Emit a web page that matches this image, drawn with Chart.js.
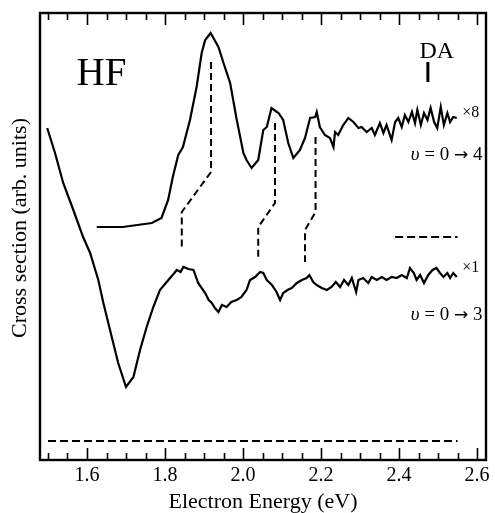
<!DOCTYPE html>
<html>
<head>
<meta charset="utf-8">
<script src="https://cdn.jsdelivr.net/npm/chart.js@4/dist/chart.umd.min.js"></script>
<style>
html, body { margin: 0; padding: 0; background: #fff; }
</style>
</head>
<body>
<canvas id="chart" width="495" height="513"></canvas>
<script>
// v = 0 -> 4 channel (scaled x8)
const upperEnergy = [1.625, 1.692, 1.766, 1.791, 1.808, 1.820, 1.834, 1.846, 1.864, 1.881, 1.894, 1.903, 1.917,
  1.937, 1.950, 1.967, 1.984, 2.001, 2.009, 2.022, 2.039, 2.052, 2.061, 2.073, 2.091, 2.103, 2.116, 2.129,
  2.146, 2.159, 2.172, 2.185, 2.189, 2.197, 2.210, 2.223, 2.232, 2.236, 2.244, 2.257, 2.270, 2.283, 2.296,
  2.304, 2.317, 2.330, 2.338, 2.351, 2.360, 2.368, 2.381, 2.390, 2.398, 2.407, 2.415, 2.424, 2.433, 2.441,
  2.447, 2.456, 2.464, 2.473, 2.481, 2.490, 2.498, 2.507, 2.515, 2.524, 2.531, 2.539, 2.548];
const upperSignal = [233, 233, 237, 242, 260, 283, 305, 313, 340, 373, 407, 420, 427,
  413, 397, 377, 340, 307, 300, 292, 300, 330, 333, 352, 347, 340, 317, 302,
  310, 322, 342, 343, 348, 333, 325, 322, 313, 328, 325, 335, 342, 338, 332,
  333, 328, 332, 325, 337, 327, 335, 320, 338, 342, 333, 345, 338, 348, 337,
  350, 335, 347, 340, 352, 338, 332, 353, 335, 347, 338, 343, 342];

// v = 0 -> 3 channel (x1)
const lowerEnergy = [1.498, 1.518, 1.539, 1.565, 1.590, 1.608, 1.629, 1.642, 1.659, 1.680, 1.700, 1.719, 1.736,
  1.753, 1.770, 1.787, 1.800, 1.813, 1.822, 1.830, 1.840, 1.847, 1.860, 1.873, 1.885, 1.903, 1.912, 1.920,
  1.928, 1.937, 1.946, 1.958, 1.970, 1.984, 1.996, 2.009, 2.018, 2.031, 2.044, 2.052, 2.061, 2.074, 2.086,
  2.095, 2.103, 2.114, 2.125, 2.138, 2.151, 2.163, 2.170, 2.180, 2.189, 2.202, 2.215, 2.227, 2.238, 2.249,
  2.259, 2.270, 2.279, 2.290, 2.296, 2.308, 2.321, 2.330, 2.343, 2.356, 2.368, 2.381, 2.394, 2.407, 2.420,
  2.428, 2.438, 2.445, 2.454, 2.464, 2.475, 2.486, 2.496, 2.505, 2.514, 2.524, 2.531, 2.539, 2.548];
const lowerSignal = [332, 307, 277, 250, 223, 207, 180, 157, 130, 97, 73, 83, 110,
  133, 153, 170, 176, 182, 186, 190, 188, 193, 191, 190, 177, 167, 160, 157,
  152, 148, 155, 153, 158, 160, 163, 170, 180, 183, 188, 187, 180, 175, 168,
  160, 167, 170, 172, 177, 180, 182, 185, 178, 175, 172, 170, 173, 178, 173,
  180, 175, 182, 168, 180, 182, 177, 183, 180, 183, 180, 183, 182, 185, 182,
  192, 187, 180, 185, 177, 185, 190, 192, 187, 183, 187, 182, 187, 183];

// dashed guides linking the peaks of both channels
const guideA = { energy: [1.918, 1.918, 1.843, 1.843], signal: [398, 288, 248, 212] };
const guideB = { energy: [2.082, 2.082, 2.039, 2.039], signal: [337, 257, 233, 200] };
const guideC = { energy: [2.186, 2.186, 2.159, 2.159], signal: [323, 248, 230, 198] };
const baseEnergy = [1.5, 2.55];
const baseSignal = [19, 19];
const zeroEnergy = [2.39, 2.55];
const zeroSignal = [223, 223];
const daEnergy = [2.474, 2.474];
const daSignal = [398, 378];

const majorTicks = [1.6, 1.8, 2.0, 2.2, 2.4, 2.6];
const tickLabels = ['1.6', '1.8', '2.0', '2.2', '2.4', '2.6'];
const minorTicks = [1.5, 1.55, 1.65, 1.7, 1.75, 1.85, 1.9, 1.95, 2.05, 2.1, 2.15, 2.25, 2.3, 2.35, 2.45, 2.5, 2.55];

const serif = '"Liberation Serif", "Times New Roman", serif';

function pts(xs, ys) {
    return xs.map((x, i) => ({ x: x, y: ys[i] }));
}

function lineSet(xs, ys, width, dash) {
    return {
        data: pts(xs, ys),
        borderColor: '#000',
        borderWidth: width,
        borderDash: dash || [],
        pointRadius: 0,
        tension: 0,
        fill: false
    };
}

// inward ticks on top and bottom, plus the frame
const framePlugin = {
    id: 'frame',
    afterDatasetsDraw(chart) {
        const { ctx, chartArea: a, scales: { x } } = chart;
        ctx.save();
        ctx.strokeStyle = '#000';
        ctx.lineWidth = 1.6;
        const all = majorTicks.map(v => [v, 12]).concat(minorTicks.map(v => [v, 7]));
        all.forEach(([v, len]) => {
            const px = Math.round(x.getPixelForValue(v)) + 0.5;
            ctx.beginPath();
            ctx.moveTo(px, a.bottom);
            ctx.lineTo(px, a.bottom - len);
            ctx.moveTo(px, a.top);
            ctx.lineTo(px, a.top + len);
            ctx.stroke();
        });
        ctx.lineWidth = 2.4;
        ctx.strokeRect(a.left, a.top, a.right - a.left, a.bottom - a.top);
        ctx.restore();
    }
};

// right-aligned "υ = 0 → n" built from pieces (italic upsilon, larger arrow)
function upsilonLabel(ctx, n, right, baseline) {
    const parts = [
        ['italic 19px ' + serif, '\u03C5'],
        ['19px ' + serif, ' = 0 '],
        ['17px "DejaVu Sans"', '\u2192'],
        ['19px ' + serif, ' ' + n]
    ];
    let total = 0;
    parts.forEach(p => { ctx.font = p[0]; total += ctx.measureText(p[1]).width; });
    let xPos = right - total;
    ctx.textAlign = 'left';
    parts.forEach(p => {
        ctx.font = p[0];
        ctx.fillText(p[1], xPos, baseline);
        xPos += ctx.measureText(p[1]).width;
    });
}

const textPlugin = {
    id: 'labels',
    afterDatasetsDraw(chart) {
        const { ctx, chartArea: a, scales: { x, y } } = chart;
        ctx.save();
        ctx.fillStyle = '#000';
        ctx.textBaseline = 'alphabetic';

        ctx.font = '39px ' + serif;
        ctx.textAlign = 'center';
        ctx.fillText('HF', x.getPixelForValue(1.637), y.getPixelForValue(375));

        ctx.font = '24px ' + serif;
        ctx.fillText('DA', x.getPixelForValue(2.497), y.getPixelForValue(402));

        ctx.font = '16px ' + serif;
        ctx.textAlign = 'left';
        ctx.fillText('\u00D78', x.getPixelForValue(2.562), y.getPixelForValue(343));
        ctx.fillText('\u00D71', x.getPixelForValue(2.562), y.getPixelForValue(188));

        upsilonLabel(ctx, '4', x.getPixelForValue(2.614), y.getPixelForValue(300));
        upsilonLabel(ctx, '3', x.getPixelForValue(2.614), y.getPixelForValue(140));

        // y axis title
        ctx.translate(20, y.getPixelForValue(232));
        ctx.rotate(-Math.PI / 2);
        ctx.font = '22px ' + serif;
        ctx.textAlign = 'center';
        ctx.textBaseline = 'middle';
        ctx.fillText('Cross section (arb. units)', 0, 0);
        ctx.restore();
    }
};

new Chart(document.getElementById('chart').getContext('2d'), {
    type: 'line',
    data: {
        datasets: [
            lineSet(upperEnergy, upperSignal, 2.2),
            lineSet(lowerEnergy, lowerSignal, 2.2),
            lineSet(guideA.energy, guideA.signal, 2, [7, 4]),
            lineSet(guideB.energy, guideB.signal, 2, [7, 4]),
            lineSet(guideC.energy, guideC.signal, 2, [7, 4]),
            lineSet(baseEnergy, baseSignal, 2, [8, 4]),
            lineSet(zeroEnergy, zeroSignal, 2, [8, 4]),
            lineSet(daEnergy, daSignal, 3)
        ]
    },
    options: {
        responsive: false,
        animation: false,
        layout: { padding: { left: 0, right: 9, top: 13, bottom: 0 } },
        plugins: {
            legend: { display: false },
            tooltip: { enabled: false }
        },
        scales: {
            x: {
                type: 'linear',
                min: 1.4795,
                max: 2.623,
                grid: { display: false },
                border: { display: false },
                afterBuildTicks: s => { s.ticks = majorTicks.map(v => ({ value: v })); },
                afterFit: s => { s.height = 53; },
                ticks: {
                    autoSkip: false,
                    maxRotation: 0,
                    padding: -2,
                    color: '#000',
                    font: { family: serif, size: 20, lineHeight: 1 },
                    callback: (v) => {
                        const i = majorTicks.findIndex(m => Math.abs(m - v) < 1e-6);
                        return i >= 0 ? tickLabels[i] : '';
                    }
                },
                title: {
                    display: true,
                    text: 'Electron Energy (eV)',
                    color: '#000',
                    font: { family: serif, size: 22, lineHeight: 1 },
                    padding: { top: 0, bottom: 0 }
                }
            },
            y: {
                min: 0,
                max: 447,
                grid: { display: false },
                border: { display: false },
                ticks: { display: false },
                afterFit: s => { s.width = 40; },
                title: { display: false }
            }
        }
    },
    plugins: [framePlugin, textPlugin]
});
</script>
</body>
</html>
